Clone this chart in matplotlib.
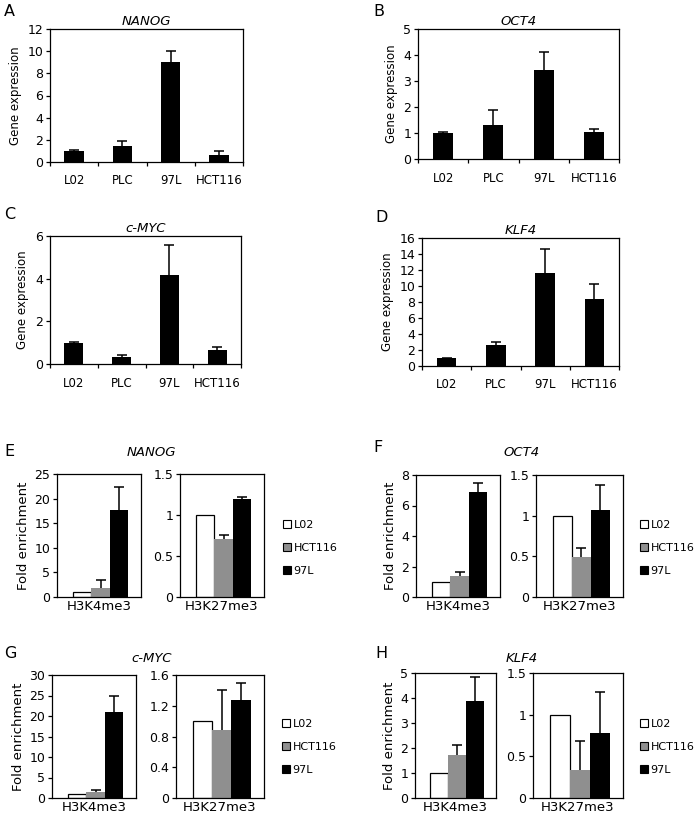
import matplotlib
matplotlib.use("Agg")
from matplotlib import pyplot as plt
from matplotlib.patches import Patch

# cell lines for qPCR panels
cells = ['L02', 'PLC', '97L', 'HCT116']
nanog_expr = [1.0, 1.45, 9.0, 0.6]
nanog_err = [0.04, 0.42, 1.05, 0.42]
oct4_expr = [1.0, 1.29, 3.42, 1.03]
oct4_err = [0.02, 0.6, 0.68, 0.12]
cmyc_expr = [1.0, 0.35, 4.17, 0.64]
cmyc_err = [0.02, 0.08, 1.41, 0.17]
klf4_expr = [1.0, 2.6, 11.6, 8.35]
klf4_err = [0.05, 0.4, 3.05, 1.95]

# ChIP panels
marks = ['H3K4me3', 'H3K27me3']
chip_lines = ['L02', 'HCT116', '97L']
nanog_k4 = [1.0, 1.8, 17.7]
nanog_k4_err = [0, 1.7, 4.6]
nanog_k27 = [1.0, 0.71, 1.2]
nanog_k27_err = [0, 0.05, 0.02]
oct4_k4 = [1.0, 1.37, 6.88]
oct4_k4_err = [0, 0.3, 0.57]
oct4_k27 = [1.0, 0.49, 1.07]
oct4_k27_err = [0, 0.11, 0.31]
cmyc_k4 = [1.0, 1.5, 21.0]
cmyc_k4_err = [0, 0.45, 4.0]
cmyc_k27 = [1.0, 0.89, 1.28]
cmyc_k27_err = [0, 0.52, 0.21]
klf4_k4 = [1.0, 1.71, 3.87]
klf4_k4_err = [0, 0.41, 0.96]
klf4_k27 = [1.0, 0.34, 0.78]
klf4_k27_err = [0, 0.34, 0.49]

W, H = 700, 817
fig = plt.figure(figsize=(W / 100, H / 100), dpi=100)
plt.rcParams['font.family'] = 'DejaVu Sans'


def box(x0, y0, x1, y1):
    return fig.add_axes([x0 / W, 1 - y1 / H, (x1 - x0) / W, (y1 - y0) / H])


def style(ax, size):
    for s in ax.spines.values():
        s.set_linewidth(0.9)
    ax.tick_params(axis='y', direction='out', length=3, width=0.9,
                   labelsize=size, pad=2)


def up_err(ax, x, vals, errs):
    # one-sided error bars, cap only on top
    for xi, v, e in zip(x, vals, errs):
        if e <= 0:
            continue
        ax.vlines(xi, v, v + e, color='black', linewidth=1.1, zorder=3)
        ax.plot([xi], [v + e], marker='_', markersize=7, mew=1.1,
                color='black', zorder=3)


def expr_panel(rect, vals, errs, ymax, step, gene, letter, lx, ly):
    ax = box(*rect)
    x = list(range(len(cells)))
    ax.bar(x, vals, width=0.4, color='black')
    up_err(ax, x, vals, errs)
    ax.set_xlim(-0.5, len(cells) - 0.5)
    ax.set_ylim(0, ymax)
    ax.set_yticks([i * step for i in range(int(round(ymax / step)) + 1)])
    ax.set_xticks(x)
    ax.set_xticklabels(cells, fontsize=8.5)
    ax.set_xticks([i - 0.5 for i in range(len(cells) + 1)], minor=True)
    ax.tick_params(axis='x', which='major', length=0, pad=9)
    ax.tick_params(axis='x', which='minor', direction='out', length=3,
                   width=0.9)
    style(ax, 9)
    ax.set_ylabel('Gene expression', fontsize=8.5, labelpad=4)
    ax.set_title(gene, fontsize=9.5, style='italic', pad=3)
    fig.text(lx / W, 1 - ly / H, letter, fontsize=11.5, va='center')
    return ax


def chip_panel(rect_l, rect_r, k4, k4e, k27, k27e, lim_l, lim_r,
               gene, letter, lx, ly, leg_x, leg_y, title_x, title_y):
    colors = ['white', '#8f8f8f', 'black']
    offs = [-0.2, 0.02, 0.24]
    for rect, vals, errs, (ymax, ticks, labels), mark, ylab in [
            (rect_l, k4, k4e, lim_l, marks[0], True),
            (rect_r, k27, k27e, lim_r, marks[1], False)]:
        ax = box(*rect)
        for o, v, c in zip(offs, vals, colors):
            ax.bar(o, v, width=0.22, color=c, edgecolor='black',
                   linewidth=0.9 if c == 'white' else 0)
        up_err(ax, offs, vals, errs)
        ax.set_xlim(-0.5, 0.5)
        ax.set_ylim(0, ymax)
        ax.set_yticks(ticks)
        ax.set_yticklabels(labels)
        ax.set_xticks([0])
        ax.set_xticklabels([mark], fontsize=9.5)
        ax.tick_params(axis='x', length=0, pad=2)
        style(ax, 9)
        if ylab:
            ax.set_ylabel('Fold enrichment', fontsize=9.5, labelpad=3)
    fig.text(title_x / W, 1 - title_y / H, gene, fontsize=9.5,
             style='italic', ha='center', va='center')
    fig.text(lx / W, 1 - ly / H, letter, fontsize=11.5, va='center')
    handles = [Patch(facecolor=c, edgecolor='black', linewidth=0.8)
               for c in colors]
    fig.legend(handles, chip_lines, loc='center left',
               bbox_to_anchor=(leg_x / W, 1 - leg_y / H), frameon=False,
               fontsize=8, handlelength=0.7, handleheight=0.7,
               handletextpad=0.2, labelspacing=1.15, borderaxespad=0)


expr_panel((50, 29, 243, 162), nanog_expr, nanog_err, 12, 2, 'NANOG', 'A', 4, 12)
expr_panel((418, 29, 619, 159), oct4_expr, oct4_err, 5, 1, 'OCT4', 'B', 373, 12)
expr_panel((50, 236, 241, 364), cmyc_expr, cmyc_err, 6, 2, 'c-MYC', 'C', 4, 215)
expr_panel((422, 238, 619, 366), klf4_expr, klf4_err, 16, 2, 'KLF4', 'D', 375, 217)

half = ([0, 0.5, 1, 1.5], ['0', '0.5', '1', '1.5'])
chip_panel((57, 474, 141, 597), (180, 474, 264, 597),
           nanog_k4, nanog_k4_err, nanog_k27, nanog_k27_err,
           (25, [0, 5, 10, 15, 20, 25], ['0', '5', '10', '15', '20', '25']),
           (1.5,) + half, 'NANOG', 'E', 4, 452, 279, 548, 151, 453)
chip_panel((416, 475, 500, 597), (536, 475, 623, 597),
           oct4_k4, oct4_k4_err, oct4_k27, oct4_k27_err,
           (8, [0, 2, 4, 6, 8], ['0', '2', '4', '6', '8']),
           (1.5,) + half, 'OCT4', 'F', 373, 448, 636, 548, 522, 453)
chip_panel((52, 675, 136, 798), (176, 675, 264, 798),
           cmyc_k4, cmyc_k4_err, cmyc_k27, cmyc_k27_err,
           (30, [0, 5, 10, 15, 20, 25, 30],
            ['0', '5', '10', '15', '20', '25', '30']),
           (1.6, [0, 0.4, 0.8, 1.2, 1.6], ['0', '0.4', '0.8', '1.2', '1.6']),
           'c-MYC', 'G', 4, 653, 278, 747, 152, 659)
chip_panel((415, 673, 496, 798), (533, 673, 623, 798),
           klf4_k4, klf4_k4_err, klf4_k27, klf4_k27_err,
           (5, [0, 1, 2, 3, 4, 5], ['0', '1', '2', '3', '4', '5']),
           (1.5,) + half, 'KLF4', 'H', 375, 653, 636, 747, 522, 659)

fig.savefig('out.png', dpi=100)
